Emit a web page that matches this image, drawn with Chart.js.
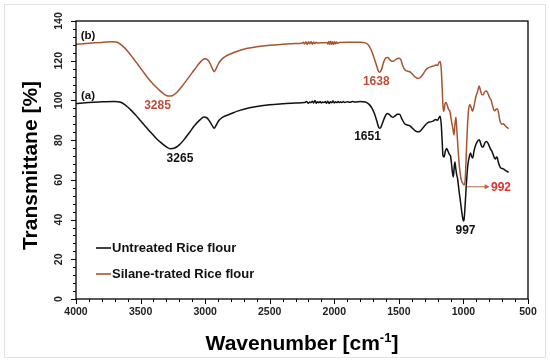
<!DOCTYPE html>
<html><head><meta charset="utf-8">
<script src="https://cdn.jsdelivr.net/npm/chart.js@4.4.0/dist/chart.umd.min.js"></script>
<style>html,body{margin:0;padding:0;background:#fff;}#wrap{width:550px;height:362px;}</style>
</head><body><div id="wrap"><canvas id="c" width="550" height="362"></canvas></div>
<script>
// ---- data ----
const seriesNames = ['Untreated Rice flour', 'Silane-trated Rice flour'];
const xTickValues = [4000, 3500, 3000, 2500, 2000, 1500, 1000, 500];
const yTickValues = [0, 20, 40, 60, 80, 100, 120, 140];

const untreatedWn = [4000,3900,3800,3700,3660,3620,3580,3540,3500,3460,3420,3380,3340,3300,3270,3240,3200,3160,3120,3080,3040,3010,2990,2965,2945,2930,2915,2895,2870,2840,2800,2750,2700,2600,2500,2400,2300,2230,
 2215,2200,2190,2180,2170,2160,2150,2140,2130,2120,2110,2100,2090,2080,2070,2060,2050,2040,2030,2020,2010,2000,1990,1980,1970,1960,1950,1940,1930,1920,1900,1880,1860,1840,1820,
 1800,1760,1730,1710,1690,1670,1655,1645,1630,1610,1590,1575,1560,1545,1530,1510,1495,1475,1455,1435,1415,1395,1375,1355,1335,1315,1295,1275,1255,1235,1215,1200,1190,1180,1172,1165,1158,1150,1140,1130,1120,1110,1100,1092,1085,1078,1072,1066,1060,1052,1045,1035,1025,1015,1005,1000,995,988,980,972,965,955,945,935,928,918,905,890,877,865,855,845,835,822,810,800,790,780,770,760,752,745,738,730,720,710,700,690,680,670,660,650];
const untreatedT = [98.4,99.0,99.3,99.5,99.2,97.8,95.5,92.8,89.8,86.8,83.8,81.0,78.6,76.6,75.7,75.9,77.6,80.5,84.0,87.5,90.2,91.6,91.4,89.5,87.3,86.0,87.5,89.8,91.3,92.3,93.3,94.6,95.6,96.9,97.8,98.3,98.7,98.9,
 99.4,98.6,99.2,98.9,99.6,98.7,100.0,98.6,99.3,98.8,99.5,98.7,99.2,98.9,99.4,98.6,99.6,98.5,99.3,98.8,99.7,98.7,99.3,98.9,99.5,98.9,99.3,98.9,99.4,99.0,99.3,99.1,99.4,99.2,99.3,
 99.4,99.2,98.0,96.2,93.5,89.5,86.3,86.0,88.0,91.5,93.4,93.0,92.0,91.5,92.2,93.0,93.0,90.5,88.3,87.6,87.2,86.0,84.8,84.2,84.6,86.0,87.6,88.8,89.2,89.6,90.4,90.0,91.2,92.0,88.0,80.0,72.0,71.5,74.5,75.8,74.5,73.0,72.0,68.0,63.5,61.5,66.0,69.0,66.0,62.5,60.5,55.0,50.0,45.0,40.5,39.3,40.0,46.0,55.0,63.0,68.0,71.5,73.5,71.5,71.0,74.5,77.5,79.5,80.2,78.0,76.5,76.8,78.5,79.3,78.5,77.0,75.5,74.5,72.8,71.0,70.5,71.5,71.2,69.0,67.0,66.0,65.7,65.5,65.0,64.5,64.2,63.8];

const silaneWn = [4000,3900,3800,3720,3680,3640,3600,3560,3520,3480,3440,3400,3360,3320,3285,3255,3220,3180,3140,3100,3060,3030,3005,2985,2965,2945,2930,2915,2895,2870,2840,2800,2750,2700,2600,2500,2400,2300,2250,
 2240,2230,2220,2210,2200,2190,2180,2170,2160,2150,2140,2130,2110,2090,2070,2055,2050,2042,2035,2028,2020,2012,2005,1998,1990,1982,1975,1960,1900,
 1800,1760,1735,1715,1695,1675,1660,1648,1635,1620,1600,1585,1570,1555,1540,1520,1500,1485,1470,1452,1430,1410,1390,1370,1350,1330,1310,1290,1270,1250,1230,1212,1200,1190,1180,1172,1165,1158,1152,1142,1135,1125,1115,1105,1096,1088,1080,1073,1066,1058,1050,1040,1030,1020,1010,1000,993,987,982,975,968,960,950,940,930,920,905,890,878,868,858,848,835,822,810,798,785,775,765,757,748,740,730,720,710,700,690,680,670,660,650];
const silaneT = [128.3,128.8,129.2,129.6,129.3,127.5,124.8,121.5,118.0,114.5,111.0,108.0,105.5,103.3,102.2,102.4,104.0,107.0,110.5,114.0,117.5,119.8,121.0,120.7,119.0,116.2,114.5,116.0,118.8,120.8,122.3,123.5,124.8,125.8,127.0,127.8,128.3,128.7,128.8,
 129.3,128.4,129.6,128.2,129.5,128.5,129.7,128.3,129.4,128.6,129.3,128.9,129.0,129.1,129.0,129.2,128.4,129.7,128.2,129.8,128.3,129.6,128.2,129.6,128.5,129.4,128.8,129.2,129.3,
 129.3,129.0,127.8,125.5,122.0,118.0,115.0,114.2,115.5,118.8,121.5,121.6,120.5,119.7,119.8,120.8,121.2,120.5,117.5,115.3,114.7,114.3,112.8,111.6,111.0,111.8,113.5,115.5,116.5,117.0,117.4,117.8,117.6,119.0,119.6,116.0,107.0,97.0,94.5,98.5,99.0,97.5,95.5,94.5,91.0,88.0,85.0,82.6,88.0,91.5,84.0,74.0,66.0,61.0,58.8,57.8,57.5,59.5,66.0,78.0,88.0,95.5,97.8,96.5,94.5,96.5,101.5,104.5,107.3,105.0,103.0,102.8,104.3,104.8,103.5,101.5,100.0,97.5,95.2,94.8,95.5,95.8,94.5,90.5,88.5,88.0,88.2,87.5,86.8,86.3,85.8];

const peakTexts = ['(b)', '(a)', '3285', '3265', '1638', '1651', '997', '992'];

// ---- styles ----
const FONT = "'Liberation Sans', Arial, sans-serif";
const BLACK = '#111111';
const BROWN = '#a65530';

function toPoints(wn, t) { return wn.map((w, i) => ({ x: w, y: t[i] })); }

const deco = {
  id: 'deco',
  afterDraw(chart) {
    const { ctx, chartArea: a, scales: { x, y } } = chart;
    ctx.save();
    ctx.strokeStyle = '#e2e2e2'; ctx.lineWidth = 1;
    ctx.strokeRect(4.5, 4.5, 541, 353);
    ctx.strokeStyle = '#000'; ctx.lineWidth = 1.3;
    ctx.strokeRect(a.left, a.top, a.right - a.left, a.bottom - a.top);
    ctx.lineWidth = 1;
    ctx.beginPath();
    for (let v = x.min; v <= x.max; v += 100) {
      const px = Math.round(x.getPixelForValue(v)) + 0.5;
      const len = (v % 500 === 0) ? 5 : 3;
      ctx.moveTo(px, a.bottom); ctx.lineTo(px, a.bottom + len);
    }
    for (let v = y.min; v <= y.max; v += 4) {
      const py = Math.round(y.getPixelForValue(v)) + 0.5;
      const len = (v % 20 === 0) ? 5 : 3;
      ctx.moveTo(a.left - len, py); ctx.lineTo(a.left, py);
    }
    ctx.stroke();

    ctx.fillStyle = '#000';
    ctx.font = 'bold 21px ' + FONT;
    ctx.save();
    ctx.translate(36.5, 165.5);
    ctx.rotate(-Math.PI / 2);
    ctx.textAlign = 'center'; ctx.textBaseline = 'alphabetic';
    ctx.fillText('Transmittane [%]', 0, 0);
    ctx.restore();

    const p1 = 'Wavenumber [cm', sup = '-1', p2 = ']';
    ctx.font = 'bold 21px ' + FONT; const w1 = ctx.measureText(p1).width, w3 = ctx.measureText(p2).width;
    ctx.font = 'bold 13px ' + FONT; const w2 = ctx.measureText(sup).width;
    let sx = (a.left + a.right) / 2 - (w1 + w2 + w3) / 2;
    const base = 349.5;
    ctx.textAlign = 'left'; ctx.textBaseline = 'alphabetic';
    ctx.font = 'bold 21px ' + FONT; ctx.fillText(p1, sx, base); sx += w1;
    ctx.font = 'bold 13px ' + FONT; ctx.fillText(sup, sx, base - 8); sx += w2;
    ctx.font = 'bold 21px ' + FONT; ctx.fillText(p2, sx, base);

    const legendCols = [BLACK, BROWN];
    [248, 274].forEach((ly, i) => {
      ctx.strokeStyle = legendCols[i]; ctx.lineWidth = 1.6;
      ctx.beginPath(); ctx.moveTo(96, ly); ctx.lineTo(111, ly); ctx.stroke();
      ctx.fillStyle = '#111'; ctx.font = 'bold 13px ' + FONT;
      ctx.textAlign = 'left'; ctx.textBaseline = 'middle';
      ctx.fillText(seriesNames[i], 112, ly + 0.5);
    });

    const ann = [
      { t: peakTexts[0], w: 3907, v: 132.6, c: '#111', f: 11.5 },
      { t: peakTexts[1], w: 3907, v: 102.3, c: '#111', f: 11.5 },
      { t: peakTexts[2], w: 3369, v: 97.6, c: '#bf4a3a', f: 12 },
      { t: peakTexts[3], w: 3195, v: 70.8, c: '#111', f: 12 },
      { t: peakTexts[4], w: 1675, v: 109.3, c: '#bf4a3a', f: 12 },
      { t: peakTexts[5], w: 1743, v: 81.5, c: '#111', f: 12 },
      { t: peakTexts[6], w: 984, v: 34.5, c: '#111', f: 12 },
      { t: peakTexts[7], w: 709, v: 56.0, c: '#e0302b', f: 12 }
    ];
    ann.forEach(o => {
      ctx.fillStyle = o.c; ctx.font = 'bold ' + o.f + 'px ' + FONT;
      ctx.textAlign = 'center'; ctx.textBaseline = 'middle';
      ctx.fillText(o.t, x.getPixelForValue(o.w), y.getPixelForValue(o.v));
    });
    const ax1 = x.getPixelForValue(975), ax2 = x.getPixelForValue(797), ay = y.getPixelForValue(56.5);
    ctx.strokeStyle = '#b8653f'; ctx.fillStyle = '#b8653f'; ctx.lineWidth = 1;
    ctx.beginPath(); ctx.moveTo(ax1, ay); ctx.lineTo(ax2 - 3, ay); ctx.stroke();
    ctx.beginPath(); ctx.moveTo(ax2, ay); ctx.lineTo(ax2 - 5, ay - 2.5); ctx.lineTo(ax2 - 5, ay + 2.5); ctx.closePath(); ctx.fill();
    ctx.restore();
  }
};

new Chart(document.getElementById('c'), {
  type: 'line',
  data: {
    datasets: [
      { label: seriesNames[0], data: toPoints(untreatedWn, untreatedT), borderColor: BLACK, borderWidth: 1.5, pointRadius: 0, cubicInterpolationMode: 'monotone', order: 1 },
      { label: seriesNames[1], data: toPoints(silaneWn, silaneT), borderColor: BROWN, borderWidth: 1.5, pointRadius: 0, cubicInterpolationMode: 'monotone', order: 0 }
    ]
  },
  options: {
    responsive: false, animation: false, events: [],
    layout: { padding: { left: 0, top: 21, right: 22, bottom: 0 } },
    plugins: { legend: { display: false }, tooltip: { enabled: false } },
    scales: {
      x: {
        type: 'linear', reverse: true, min: 500, max: 4000,
        afterBuildTicks: s => { s.ticks = xTickValues.map(v => ({ value: v })); },
        afterFit: s => { s.height = 63; },
        grid: { display: false, drawTicks: false },
        border: { display: false },
        ticks: { autoSkip: false, maxRotation: 0, padding: 7, color: '#222', callback: v => String(v), font: { family: FONT, size: 10.5, weight: 'bold' } }
      },
      y: {
        min: 0, max: 140,
        afterBuildTicks: s => { s.ticks = yTickValues.map(v => ({ value: v })); },
        afterFit: s => { s.width = 76; },
        grid: { display: false, drawTicks: false },
        border: { display: false },
        ticks: { minRotation: 90, maxRotation: 90, crossAlign: 'center', padding: 8, color: '#222', callback: v => String(v), font: { family: FONT, size: 10.5, weight: 'bold' } }
      }
    }
  },
  plugins: [deco]
});
</script>
</body></html>
